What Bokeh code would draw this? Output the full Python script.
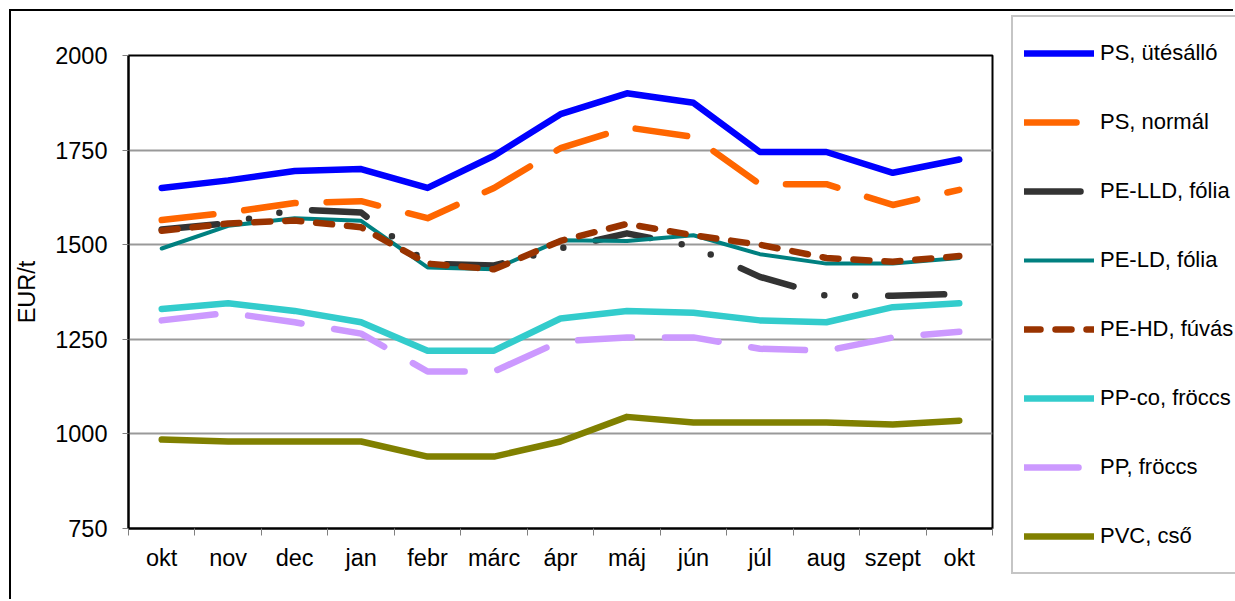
from bokeh.plotting import figure
from bokeh.models import Range1d, FixedTicker, Legend, LegendItem
from bokeh.embed import file_html
from bokeh.resources import INLINE

# ---- data -------------------------------------------------------------
months = ["okt", "nov", "dec", "jan", "febr", "márc", "ápr", "máj", "jún",
          "júl", "aug", "szept", "okt"]
y_ticks = [750, 1000, 1250, 1500, 1750, 2000]

ps_utesallo = [1650, 1670, 1695, 1700, 1650, 1735, 1845, 1900, 1875, 1745, 1745, 1690, 1725]
ps_normal   = [1565, 1585, 1610, 1615, 1570, 1650, 1755, 1810, 1785, 1660, 1660, 1605, 1645]
pe_lld      = [1540, 1557, 1593, 1585, 1450, 1445, 1490, 1530, 1495, 1415, 1365, 1365, 1370]
pe_ld       = [1490, 1550, 1570, 1563, 1440, 1435, 1512, 1510, 1525, 1475, 1450, 1450, 1465]
pe_hd       = [1537, 1556, 1564, 1546, 1450, 1435, 1510, 1555, 1525, 1500, 1465, 1455, 1470]
pp_co       = [1330, 1345, 1325, 1295, 1220, 1220, 1305, 1325, 1320, 1300, 1295, 1335, 1345]
pp          = [1300, 1320, 1295, 1265, 1165, 1165, 1245, 1255, 1255, 1225, 1220, 1255, 1270]
pvc         = [985, 980, 980, 980, 940, 940, 980, 1045, 1030, 1030, 1030, 1025, 1035]

names = ["PS, ütésálló", "PS, normál", "PE-LLD, fólia", "PE-LD, fólia",
         "PE-HD, fúvás", "PP-co, fröccs", "PP, fröccs", "PVC, cső"]
values = [ps_utesallo, ps_normal, pe_lld, pe_ld, pe_hd, pp_co, pp, pvc]

# ---- styles -----------------------------------------------------------
colors = ["#0000FF", "#FF6600", "#333333", "#008080", "#993300", "#33CCCC", "#CC99FF", "#808000"]
widths = [6.5, 6.5, 6.5, 4, 6.5, 6.5, 6.5, 6.5]
dashes = ["solid", "52 31", "56 32 0 31 0 33", "solid", "16 15", "solid", "54 33", "solid"]

FONT = "Liberation Sans"
OFF = 11                       # page offset of the main canvas (margin + border)
H = 601 - OFF
W = 1235 - OFF
FL, FT, FW, FH = 128 - OFF, 55 - OFF, 864, 473

p = figure(width=W, height=H, output_backend="svg", toolbar_location=None,
           x_range=Range1d(-0.5, 12.5), y_range=Range1d(750, 2000),
           min_border_left=FL, min_border_right=W - FL - FW,
           min_border_top=FT, min_border_bottom=H - FT - FH,
           background_fill_color="white", border_fill_color="white")
p.styles = {"border-top": "2px solid black", "border-left": "2px solid black",
            "margin-left": "9px", "margin-top": "9px"}
p.outline_line_color = "black"
p.outline_line_width = 2

xs = list(range(len(months)))
for vals, c, w, d in zip(values, colors, widths, dashes):
    p.line(xs, vals, line_color=c, line_width=w, line_dash=d,
           line_join="round", line_cap="round")

# x axis: labels at category centres, tick marks between categories
xa = p.xaxis[0]
xa.ticker = FixedTicker(ticks=xs, minor_ticks=[i - 0.5 for i in range(len(months) + 1)])
xa.major_label_overrides = {i: m for i, m in enumerate(months)}
xa.major_tick_out = 0
xa.major_tick_in = 0
xa.minor_tick_out = 7
xa.minor_tick_in = 0
xa.minor_tick_line_color = "#808080"
xa.axis_line_color = "black"
xa.axis_line_width = 2
xa.major_label_text_font = FONT
xa.major_label_text_font_size = "23.5px"
xa.major_label_text_color = "black"
xa.major_label_standoff = 9

ya = p.yaxis[0]
ya.ticker = FixedTicker(ticks=y_ticks, minor_ticks=[])
ya.major_tick_out = 6
ya.major_tick_in = 0
ya.major_tick_line_color = "#808080"
ya.axis_line_color = "black"
ya.axis_line_width = 2
ya.major_label_text_font = FONT
ya.major_label_text_font_size = "23.5px"
ya.major_label_text_color = "black"
ya.major_label_standoff = 15
ya.axis_label = "EUR/t"
ya.axis_label_text_font = FONT
ya.axis_label_text_font_size = "23.5px"
ya.axis_label_text_font_style = "normal"
ya.axis_label_text_color = "black"
ya.axis_label_standoff = 12

p.xgrid.visible = False
p.ygrid.ticker = FixedTicker(ticks=[1000, 1250, 1500, 1750])
p.ygrid.grid_line_color = "#999999"
p.ygrid.grid_line_width = 2

# ---- legend panel: a second figure laid over the right-hand side --------
LX, LY = 1000, OFF             # page position of the legend figure
W2, H2 = 1235 - LX, 601 - LY
p2 = figure(width=W2, height=H2, output_backend="svg", toolbar_location=None,
            x_axis_type=None, y_axis_type=None,
            x_range=Range1d(0, 1), y_range=Range1d(0, 1),
            min_border=0, min_border_left=0, min_border_right=0,
            min_border_top=0, min_border_bottom=0, outline_line_color=None,
            background_fill_color="white", border_fill_color="white")
p2.styles = {"position": "absolute", "left": f"{LX}px", "top": f"{LY}px"}
p2.xgrid.visible = False
p2.ygrid.visible = False
# same series, outside this figure's ranges: only their legend glyphs show
proxies = []
for vals, c, w, d in zip(values, colors, widths, dashes):
    proxies.append(p2.line(xs, vals, line_color=c, line_width=w, line_dash=d,
                           line_join="round", line_cap="round"))

pad, gh, sp, n = 11, 50, 19, len(names)
leg_h = 2 * pad + n * gh + (n - 1) * sp
leg_left, leg_top = 1011 - LX, 19 - LY
legend = Legend(items=[LegendItem(label=nm, renderers=[r]) for nm, r in zip(names, proxies)],
                location=(leg_left, H2 - leg_top - leg_h),
                glyph_width=70, glyph_height=gh, label_height=gh, spacing=sp,
                padding=pad, label_standoff=6, label_width=200, margin=0,
                label_text_font=FONT, label_text_font_size="22px",
                label_text_color="black",
                border_line_color="#8c8c8c", border_line_width=2,
                background_fill_color="white", background_fill_alpha=1)
p2.add_layout(legend)

open("out.html", "w").write(file_html([p, p2], INLINE))
